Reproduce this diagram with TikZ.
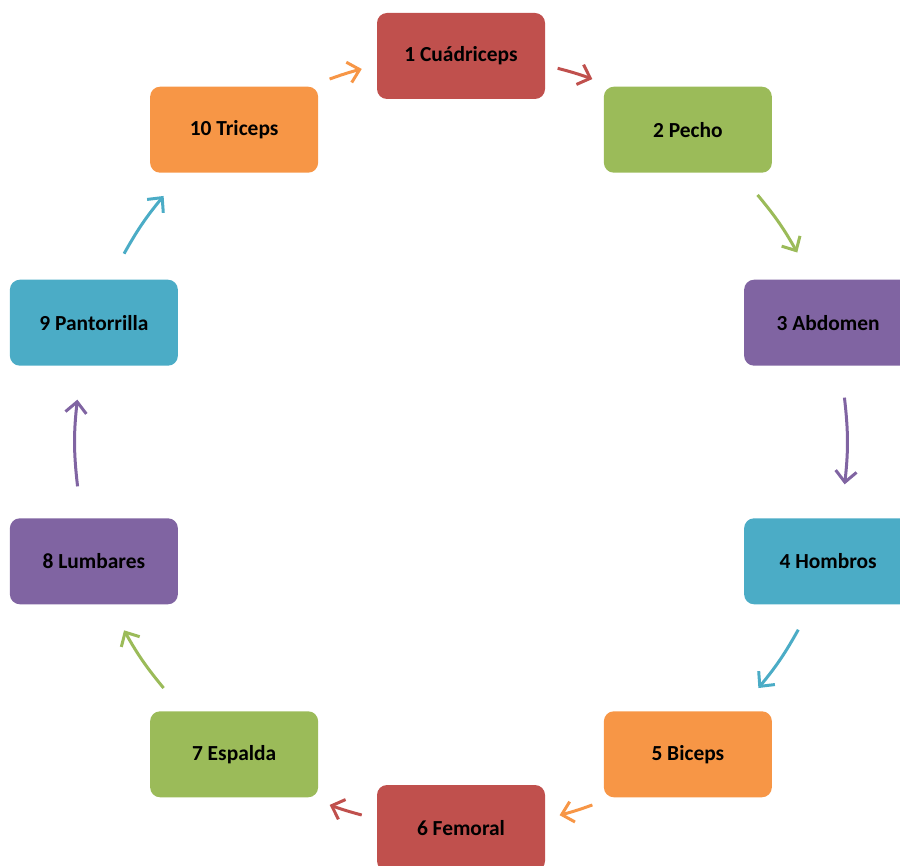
\documentclass[tikz,border=0pt]{standalone}
\usepackage{fontspec}
\setmainfont{Carlito}
\usetikzlibrary{arrows.meta,calc}
\definecolor{rojo}{HTML}{C0504D}
\definecolor{verde}{HTML}{9BBB59}
\definecolor{morado}{HTML}{8064A2}
\definecolor{turquesa}{HTML}{4BACC6}
\definecolor{naranja}{HTML}{F79646}

\begin{document}
\begin{tikzpicture}[x=0.2mm, y=0.2mm]
\tikzset{caja/.style={fill=#1, rounded corners=2mm, minimum width=33.6mm, minimum height=17.2mm, inner sep=0pt, font=\fontsize{12.2}{14}\selectfont\bfseries, text=black}}
\tikzset{flecha/.style={draw=#1, line width=0.6mm, -{Straight Barb[length=2.2mm, width=4.2mm]}}}
\useasboundingbox (0,0) rectangle (900,865);
\clip (0,0) rectangle (900,865);
\coordinate (C) at (461,423);
\node[caja=rojo] (N1) at ($(C)+(90:386)$) {1 Cuádriceps};
\node[caja=verde] (N2) at ($(C)+(54:386)$) {2 Pecho};
\node[caja=morado] (N3) at ($(C)+(18:386)$) {3 Abdomen};
\node[caja=turquesa] (N4) at ($(C)+(-18:386)$) {4 Hombros};
\node[caja=naranja] (N5) at ($(C)+(-54:386)$) {5 Biceps};
\node[caja=rojo] (N6) at ($(C)+(-90:386)$) {6 Femoral};
\node[caja=verde] (N7) at ($(C)+(-126:386)$) {7 Espalda};
\node[caja=morado] (N8) at ($(C)+(-162:386)$) {8 Lumbares};
\node[caja=turquesa] (N9) at ($(C)+(162:386)$) {9 Pantorrilla};
\node[caja=naranja] (N10) at ($(C)+(126:386)$) {10 Triceps};
% extremos de las flechas
\coordinate (S1) at ($(C)+(75.5:386)$);
\coordinate (E1) at ($(C)+(70.1:386)$);
\coordinate (S2) at ($(C)+(39.8:386)$);
\coordinate (E2) at ($(C)+(29.4:386)$);
\coordinate (S3) at ($(C)+(6.6:386)$);
\coordinate (E3) at ($(C)+(-6.3:386)$);
\coordinate (S4) at ($(C)+(-29.1:386)$);
\coordinate (E4) at ($(C)+(-39.6:386)$);
\coordinate (S5) at ($(C)+(-70.1:386)$);
\coordinate (E5) at ($(C)+(-75.2:386)$);
\coordinate (S6) at ($(C)+(-104.9:386)$);
\coordinate (E6) at ($(C)+(-109.9:386)$);
\coordinate (S7) at ($(C)+(-140.4:386)$);
\coordinate (E7) at ($(C)+(-150.8:386)$);
\coordinate (S8) at ($(C)+(-173.4:386)$);
\coordinate (E8) at ($(C)+(-186.3:386)$);
\coordinate (S9) at ($(C)+(150.8:386)$);
\coordinate (E9) at ($(C)+(140.4:386)$);
\coordinate (S10) at ($(C)+(109.9:386)$);
\coordinate (E10) at ($(C)+(104.9:386)$);
\draw[flecha=rojo] (S1) to[bend left=2.7] (E1);
\draw[flecha=verde] (S2) to[bend left=5.2] (E2);
\draw[flecha=morado] (S3) to[bend left=6.5] (E3);
\draw[flecha=turquesa] (S4) to[bend left=5.2] (E4);
\draw[flecha=naranja] (S5) to[bend left=2.6] (E5);
\draw[flecha=rojo] (S6) to[bend left=2.5] (E6);
\draw[flecha=verde] (S7) to[bend left=5.2] (E7);
\draw[flecha=morado] (S8) to[bend left=6.5] (E8);
\draw[flecha=turquesa] (S9) to[bend left=5.2] (E9);
\draw[flecha=naranja] (S10) to[bend left=2.5] (E10);
\end{tikzpicture}
\end{document}
